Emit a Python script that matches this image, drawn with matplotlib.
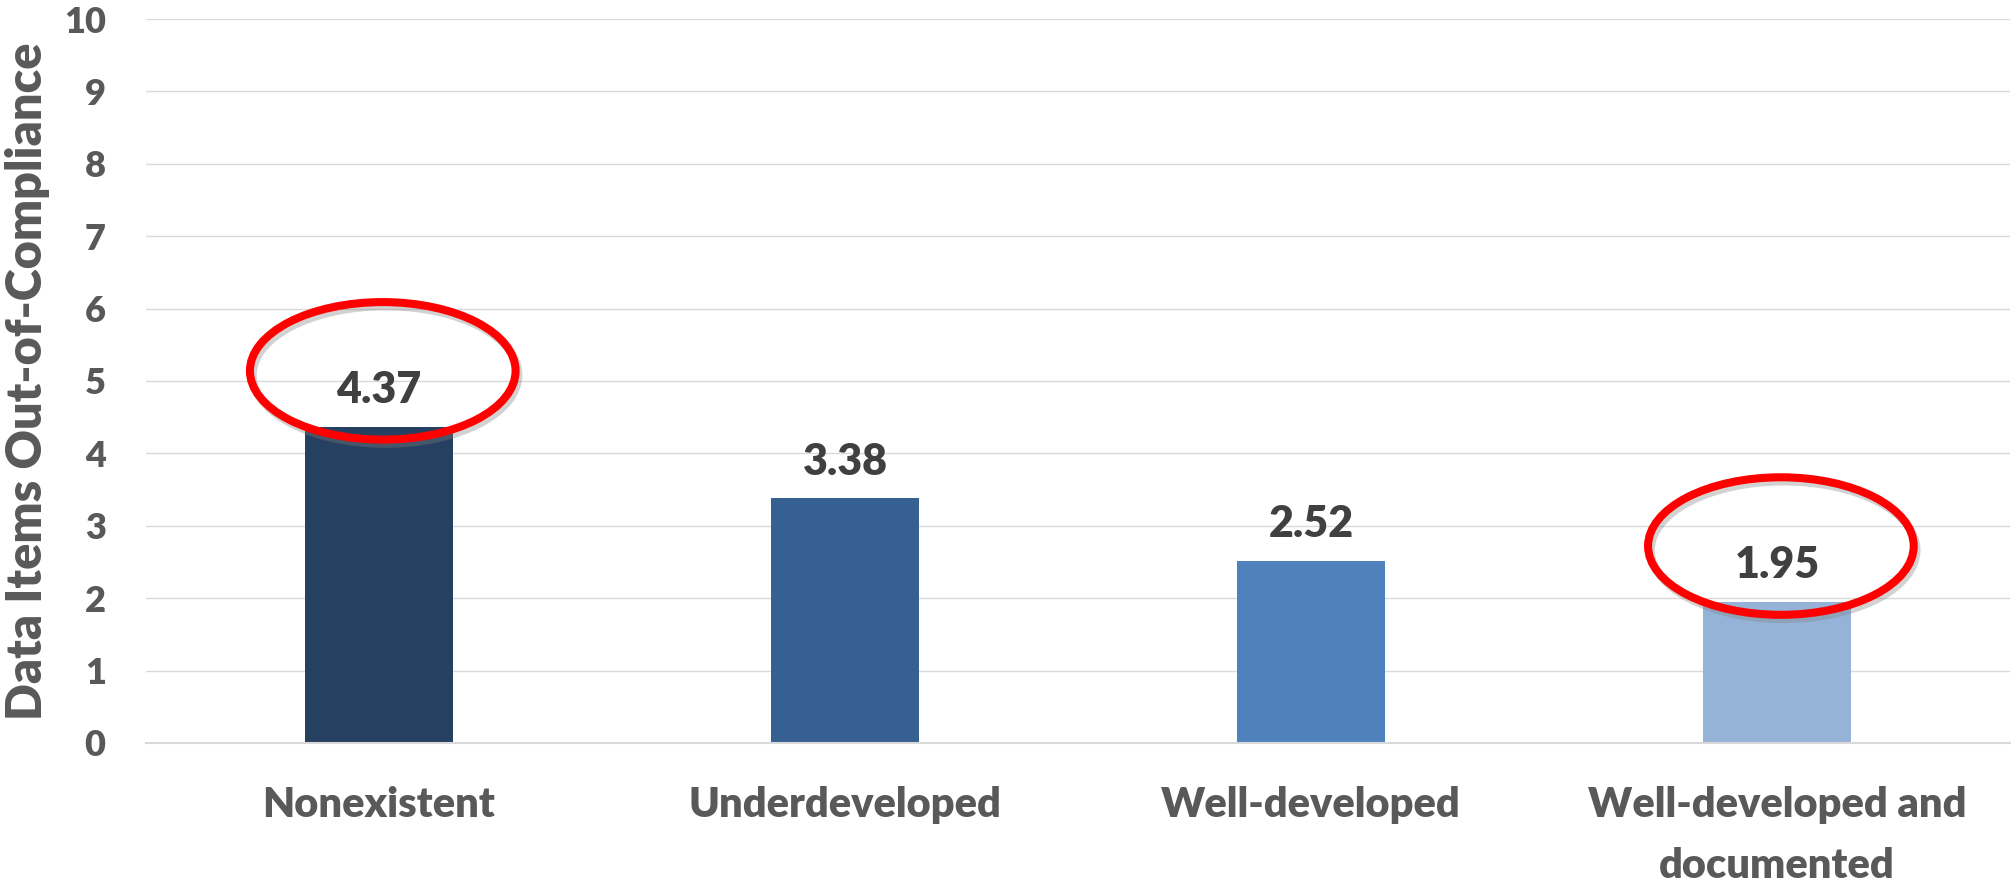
import matplotlib
matplotlib.use('Agg')
import matplotlib.pyplot as plt
import matplotlib.patheffects as pe
from matplotlib.patches import Ellipse

plt.rcParams['font.family'] = ['Lato', 'DejaVu Sans']
plt.rcParams['font.weight'] = 'heavy'

categories = ['Nonexistent', 'Underdeveloped', 'Well-developed', 'Well-developed and\ndocumented']
values = [4.37, 3.38, 2.52, 1.95]
bar_colors = ['#264061', '#376092', '#4F81BD', '#95B3D7']
y_ticks = list(range(0, 11))
highlighted = [0, 3]   # bars circled in red

fig = plt.figure(figsize=(20.11, 8.85), dpi=100)
ax = fig.add_axes([0.0726, 0.1605, 0.927, 0.818])

x = list(range(len(categories)))
bars = ax.bar(x, values, width=0.317, color=bar_colors, zorder=2)

# value labels above each bar
for xi, v in zip(x, values):
    ax.annotate(f'{v:.2f}', xy=(xi, v), xytext=(0, 17), textcoords='offset points',
                ha='center', va='baseline', fontsize=31, fontweight='heavy', color='#404040', zorder=4)

# red rings around the first and last labels
for i in highlighted:
    ring = Ellipse((x[i] + 0.008, values[i] + 0.77), width=0.57, height=1.9,
                   fill=False, edgecolor='#FF0000', linewidth=5.8, zorder=5,
                   path_effects=[pe.SimpleLineShadow(offset=(2, -3), shadow_color='#808080', alpha=0.35),
                                 pe.Normal()])
    ax.add_patch(ring)

ax.set_xlim(-0.5, 3.5)
ax.set_ylim(0, 10)
ax.set_yticks(y_ticks)
ax.set_xticks(x)
ax.set_xticklabels(categories, linespacing=1.75)
ax.yaxis.grid(True, color='#D9D9D9', linewidth=1.0, zorder=0)
ax.set_axisbelow(True)

for side in ['top', 'right', 'left']:
    ax.spines[side].set_visible(False)
ax.spines['bottom'].set_color('#D9D9D9')
ax.spines['bottom'].set_linewidth(1.5)

ax.tick_params(axis='y', length=0, pad=29, labelsize=26, labelcolor='#595959')
ax.tick_params(axis='x', length=0, pad=31, labelsize=30, labelcolor='#595959')
for lbl in ax.get_xticklabels() + ax.get_yticklabels():
    lbl.set_fontweight('heavy')

ax.set_ylabel('Data Items Out-of-Compliance', fontsize=35, fontweight='heavy', color='#595959')
ax.yaxis.set_label_coords(-0.0515, 0.5)

fig.savefig('out.png', dpi=100)
